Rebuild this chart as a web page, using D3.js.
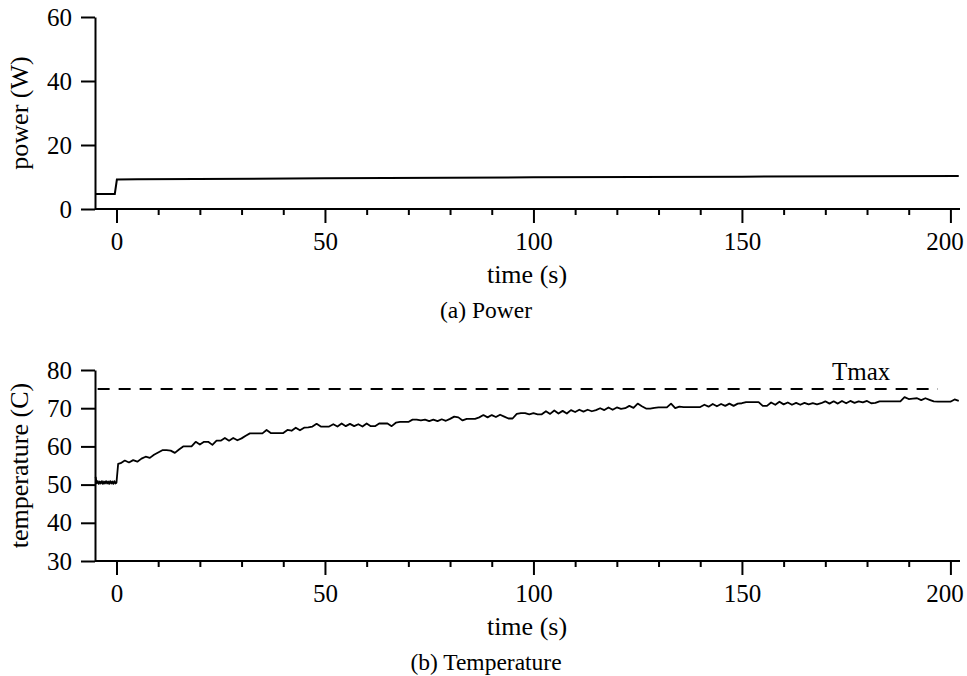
<!DOCTYPE html>
<html>
<head>
<meta charset="utf-8">
<script src="https://cdn.jsdelivr.net/npm/d3@7"></script>
<style>
  html, body { margin: 0; padding: 0; background: #fff; }
  svg { display: block; }
  svg text { font-family: "Liberation Serif", "DejaVu Serif", serif !important; fill: #000; }
</style>
</head>
<body>
<svg id="chart" width="967" height="676"></svg>
<script>
// ---------- data ----------
const powerTime  = [-5, -0.4, 0.1, 5, 50, 100, 150, 202];
const powerValue = [4.7, 4.7, 9.2, 9.3, 9.6, 9.9, 10.1, 10.3];

const tempPreTime = d3.range(-5, 0.01, 0.25);
const tempPreValue = [52.0, 50.3, 50.9, 50.2, 50.8, 50.3, 50.9, 50.2, 50.8, 50.3, 50.9,
                      50.3, 50.8, 50.2, 50.9, 50.3, 50.8, 50.2, 50.9, 50.3, 50.5];
const tempJumpTime = [0.4];
const tempJumpValue = [55.4];
const tempPostTime = d3.range(1, 203);
const tempPostValue = [
  55.6, 56.3, 55.8, 56.4, 56.0, 56.8, 57.3, 57.0, 57.8, 58.4,
  59.0, 59.0, 58.9, 58.3, 59.2, 60.0, 60.0, 60.0, 61.2, 60.5,
  61.2, 61.2, 60.4, 61.5, 61.5, 62.2, 61.5, 62.2, 61.6, 62.1,
  62.8, 63.4, 63.4, 63.4, 63.4, 64.3, 63.5, 63.5, 63.5, 63.5,
  64.3, 64.1, 64.9, 64.2, 64.9, 65.0, 65.2, 65.9, 65.2, 65.2,
  65.2, 65.8, 65.2, 66.0, 65.3, 65.9, 65.3, 65.8, 65.2, 66.0,
  65.3, 65.3, 66.0, 66.0, 66.0, 65.3, 66.2, 66.4, 66.4, 66.4,
  67.0, 67.0, 66.8, 67.0, 66.6, 67.0, 66.6, 67.1, 66.7, 67.2,
  67.8, 67.6, 66.8, 67.2, 67.2, 67.2, 67.6, 68.2, 67.6, 68.2,
  67.7, 68.3, 67.8, 67.3, 67.3, 68.5, 68.7, 68.7, 68.4, 68.7,
  68.4, 68.4, 69.2, 68.5, 69.4, 68.6, 69.3, 68.6, 69.5, 69.0,
  69.6, 69.1, 69.6, 69.2, 69.5, 70.0, 69.5, 70.2, 69.6, 70.2,
  69.8, 70.0, 70.6, 70.1, 71.2, 70.5, 69.9, 69.9, 70.1, 70.2,
  70.2, 70.2, 71.2, 70.0, 70.4, 70.3, 70.3, 70.3, 70.3, 70.3,
  70.9, 70.4, 71.1, 70.5, 71.1, 70.6, 71.2, 70.6, 71.2, 71.3,
  71.6, 71.6, 71.6, 71.6, 70.6, 70.6, 71.5, 70.9, 71.7, 71.0,
  71.5, 70.9, 71.4, 70.9, 71.4, 71.0, 71.3, 71.0, 71.3, 71.8,
  71.2, 71.8, 71.2, 71.9, 71.3, 71.9, 71.4, 71.8, 71.5, 71.9,
  71.3, 71.4, 71.8, 71.8, 71.8, 71.8, 71.8, 71.8, 72.9, 72.4,
  72.5, 72.6, 72.1, 72.6, 72.2, 71.8, 71.7, 71.7, 71.7, 71.7,
  72.3, 71.9
];
const tmaxValue = 75;
const tmaxLabel = "Tmax";
const tmaxExtent = [-5, 197];

const xMajorTicks = [0, 50, 100, 150, 200];
const xMinorTicks = [10, 20, 30, 40, 60, 70, 80, 90, 110, 120, 130, 140, 160, 170, 180, 190];
const powerTicks = [0, 20, 40, 60];
const tempTicks = [30, 40, 50, 60, 70, 80];

const xTitle = "time (s)";
const powerTitle = "power (W)";
const tempTitle = "temperature (C)";
const captionA = "(a) Power";
const captionB = "(b) Temperature";

// ---------- drawing ----------
const svg = d3.select("#chart");
const x = d3.scaleLinear().domain([-5.15, 202.3]).range([95, 960]);

function panel(yTop, yBottom, yDomain, yTicks, yTitle, caption) {
  const g = svg.append("g");
  const y = d3.scaleLinear().domain(yDomain).range([yBottom, yTop]);

  // x axis: major ticks
  const xAxisMajor = d3.axisBottom(x).tickValues(xMajorTicks).tickSize(14).tickSizeOuter(0).tickPadding(9);
  const gx = g.append("g").attr("transform", `translate(0,${yBottom})`).call(xAxisMajor)
    .attr("font-family", null).attr("font-size", null);
  gx.select(".domain").attr("stroke-width", 2).attr("d", `M${x.range()[0]},0H${x.range()[1]}`);
  gx.selectAll(".tick line").attr("stroke-width", 2);
  gx.selectAll(".tick text").style("font-size", "25px")
    .attr("dx", d => d === 200 ? -6 : 0);
  // minor ticks
  const xAxisMinor = d3.axisBottom(x).tickValues(xMinorTicks).tickSize(6).tickFormat("");
  const gm = g.append("g").attr("transform", `translate(0,${yBottom})`).call(xAxisMinor);
  gm.select(".domain").remove();
  gm.selectAll(".tick line").attr("stroke-width", 2);

  // y axis
  const yAxis = d3.axisLeft(y).tickValues(yTicks).tickSize(14).tickSizeOuter(0).tickPadding(9);
  const gy = g.append("g").attr("transform", `translate(${x.range()[0]},0)`).call(yAxis)
    .attr("font-family", null).attr("font-size", null);
  gy.select(".domain").attr("stroke-width", 2);
  gy.selectAll(".tick line").attr("stroke-width", 2);
  gy.selectAll(".tick text").style("font-size", "25px");

  // titles
  g.append("text").attr("x", 527).attr("y", yBottom + 74).attr("text-anchor", "middle")
    .style("font-size", "26px").text(xTitle);
  g.append("text").attr("transform", `translate(28,${(yTop + yBottom) / 2}) rotate(-90)`)
    .attr("text-anchor", "middle").style("font-size", "26px").text(yTitle);
  g.append("text").attr("x", 486).attr("y", yBottom + 109).attr("text-anchor", "middle")
    .style("font-size", "23.5px").text(caption);
  return { g, y };
}

// top panel: power
const p1 = panel(17, 209, [0, 60], powerTicks, powerTitle, captionA);
const powerData = powerTime.map((t, i) => ({ t, v: powerValue[i] }));
p1.g.append("path").datum(powerData)
  .attr("fill", "none").attr("stroke", "#000").attr("stroke-width", 2)
  .attr("d", d3.line().x(d => x(d.t)).y(d => p1.y(d.v)));

// bottom panel: temperature
const p2 = panel(370, 561, [30, 80], tempTicks, tempTitle, captionB);
const tempTime = [...tempPreTime, ...tempJumpTime, ...tempPostTime];
const tempValue = [...tempPreValue, ...tempJumpValue, ...tempPostValue];
const tempData = tempTime.map((t, i) => ({ t, v: tempValue[i] }));
p2.g.append("path").datum(tempData)
  .attr("fill", "none").attr("stroke", "#000").attr("stroke-width", 1.8)
  .attr("stroke-linejoin", "round")
  .attr("d", d3.line().x(d => x(d.t)).y(d => p2.y(d.v)));

// Tmax dashed line
p2.g.append("line")
  .attr("x1", x(tmaxExtent[0]) + 2).attr("x2", x(tmaxExtent[1]))
  .attr("y1", p2.y(tmaxValue)).attr("y2", p2.y(tmaxValue))
  .attr("stroke", "#000").attr("stroke-width", 2).attr("stroke-dasharray", "12,9");
p2.g.append("text").attr("x", 832).attr("y", 380).style("font-size", "25px").text(tmaxLabel);
</script>
</body>
</html>
